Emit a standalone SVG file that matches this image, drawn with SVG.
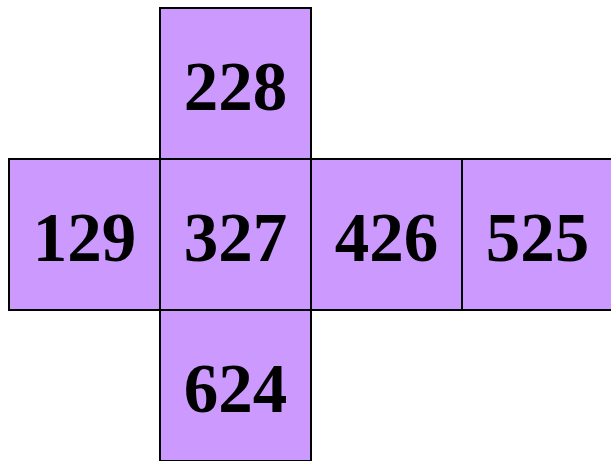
<svg xmlns="http://www.w3.org/2000/svg" width="611" height="461" viewBox="0 0 611 461">
<style>
.sq{fill:#CC99FF;stroke:#000;stroke-width:2}
.t{font-family:"Liberation Serif","Times New Roman",serif;font-weight:bold;font-size:69px;text-anchor:middle;fill:#000}
</style>
<rect width="611" height="461" fill="#fff"/>
<g id="n228"><rect class="sq" x="160" y="8" width="151" height="151"/><text class="t" x="235.5" y="110">228</text></g>
<g id="n129"><rect class="sq" x="9" y="159" width="151" height="151"/><text class="t" x="84.5" y="261">129</text></g>
<g id="n327"><rect class="sq" x="160" y="159" width="151" height="151"/><text class="t" x="235.5" y="261">327</text></g>
<g id="n426"><rect class="sq" x="311" y="159" width="151" height="151"/><text class="t" x="386.5" y="261">426</text></g>
<g id="n525"><rect class="sq" x="462" y="159" width="151" height="151"/><text class="t" x="537.5" y="261">525</text></g>
<g id="n624"><rect class="sq" x="160" y="310" width="151" height="151"/><text class="t" x="235.5" y="412">624</text></g>
<g id="connectors"></g>
</svg>
